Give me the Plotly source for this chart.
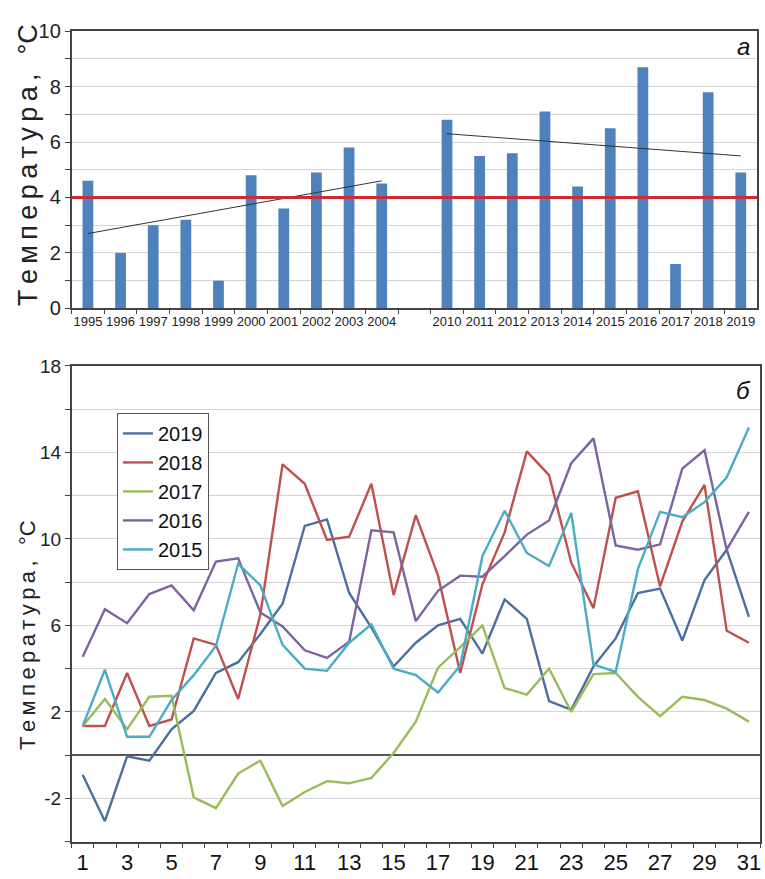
import plotly.graph_objects as go

# ---- panel "а": annual mean temperature ----
years_a = ['1995', '1996', '1997', '1998', '1999', '2000', '2001', '2002', '2003', '2004',
           ' ',
           '2010', '2011', '2012', '2013', '2014', '2015', '2016', '2017', '2018', '2019']
temps_a = [4.6, 2.0, 3.0, 3.2, 1.0, 4.8, 3.6, 4.9, 5.8, 4.5,
           None,
           6.8, 5.5, 5.6, 7.1, 4.4, 6.5, 8.7, 1.6, 7.8, 4.9]
norm_temp = 4.0
trend1_years = ['1995', '2004']
trend1_vals = [2.7, 4.6]
trend2_years = ['2010', '2019']
trend2_vals = [6.3, 5.5]

# ---- panel "б": daily temperature by year ----
days = list(range(1, 32))
t2019 = [-0.9, -3.05, -0.05, -0.25, 1.2, 2.05, 3.8, 4.3, 5.6, 7.0, 10.6, 10.9, 7.5, 5.9, 4.1, 5.2,
         6.0, 6.3, 4.7, 7.2, 6.3, 2.5, 2.1, 4.1, 5.4, 7.5, 7.7, 5.3, 8.1, 9.5, 6.4]
t2018 = [1.35, 1.35, 3.8, 1.35, 1.65, 5.4, 5.1, 2.6, 6.5, 13.45, 12.55, 9.95, 10.1, 12.55, 7.4, 11.1,
         8.3, 3.8, 7.9, 10.3, 14.05, 12.95, 8.9, 6.8, 11.9, 12.2, 7.8, 10.8, 12.5, 5.75, 5.2]
t2017 = [1.35, 2.6, 1.2, 2.7, 2.75, -1.95, -2.45, -0.85, -0.25, -2.35, -1.7, -1.2, -1.3, -1.05, 0.1, 1.55,
         4.05, 5.0, 6.0, 3.1, 2.8, 4.0, 2.0, 3.75, 3.8, 2.7, 1.8, 2.7, 2.55, 2.15, 1.55]
t2016 = [4.55, 6.75, 6.1, 7.45, 7.85, 6.7, 8.95, 9.1, 6.6, 5.95, 4.85, 4.5, 5.25, 10.4, 10.3, 6.2,
         7.6, 8.3, 8.25, 9.2, 10.2, 10.85, 13.5, 14.65, 9.7, 9.5, 9.75, 13.25, 14.1, 9.5, 11.25]
t2015 = [1.35, 3.95, 0.85, 0.85, 2.55, 3.7, 5.05, 8.85, 7.85, 5.1, 4.0, 3.9, 5.2, 6.05, 4.0, 3.7,
         2.9, 4.15, 9.2, 11.3, 9.35, 8.75, 11.2, 4.2, 3.85, 8.6, 11.25, 11.0, 11.7, 12.85, 15.15]
series_names = ['2019', '2018', '2017', '2016', '2015']
series_vals = [t2019, t2018, t2017, t2016, t2015]
series_colors = ['#4a6fa0', '#bf504d', '#9bbb59', '#7d63a0', '#4bacc6']

odd_days = days[::2]
y2_ticks = [-2, 2, 6, 10, 14, 18]
y2_ticktext = ['-2', '2', '6', '10', '14', '18']

FONT = 'Liberation Sans, Arial, sans-serif'
AXIS_LINE = '#444444'
GRID = '#d4d4d4'

fig = go.Figure()

# bars
fig.add_trace(go.Bar(x=years_a, y=temps_a, marker_color='#4f81bd', marker_line_width=0,
                     showlegend=False, xaxis='x', yaxis='y'))
# linear trends
for tx, ty in ((trend1_years, trend1_vals), (trend2_years, trend2_vals)):
    fig.add_trace(go.Scatter(x=tx, y=ty, mode='lines', line=dict(color='#333333', width=1),
                             showlegend=False, xaxis='x', yaxis='y'))

# daily lines
for name, vals, col in zip(series_names, series_vals, series_colors):
    fig.add_trace(go.Scatter(x=days, y=vals, mode='lines', name=name,
                             line=dict(color=col, width=2.4), xaxis='x2', yaxis='y2'))

# long-term norm line on panel "а"
fig.add_shape(type='line', xref='x domain', yref='y', x0=0, x1=1, y0=norm_temp, y1=norm_temp,
              line=dict(color='#cc2b36', width=3), layer='above')

ytitle = '\u2009'.join('Температура,') + '\u2002\u2009°C'

fig.update_layout(
    width=765, height=879,
    margin=dict(l=0, r=0, t=0, b=0),
    paper_bgcolor='white', plot_bgcolor='white',
    font=dict(family=FONT, color='#111111'),
    bargap=0.67,
    xaxis=dict(
        domain=[0.0937, 0.991], anchor='y', type='category',
        categoryorder='array', categoryarray=years_a,
        tickson='boundaries', ticks='outside', ticklen=4, tickcolor=AXIS_LINE,
        showline=True, linecolor=AXIS_LINE, linewidth=1.5, mirror=True,
        showgrid=False, tickfont=dict(size=13, color='#222222'), tickangle=0,
    ),
    yaxis=dict(
        domain=[0.653, 0.9765], anchor='x', range=[0, 10],
        tickvals=[0, 2, 4, 6, 8, 10], ticks='outside', ticklen=5, tickcolor=AXIS_LINE,
        showline=True, linecolor=AXIS_LINE, linewidth=1.5, mirror=True,
        showgrid=True, gridcolor=GRID, gridwidth=1, zeroline=False,
        minor=dict(dtick=1, tick0=0, showgrid=True, gridcolor=GRID, ticks='outside',
                   ticklen=5, tickcolor=AXIS_LINE),
        tickfont=dict(size=20, color='#222222'),
    ),
    xaxis2=dict(
        domain=[0.0937, 0.9948], anchor='y2', range=[0.5, 31.5],
        tickvals=odd_days, ticks='', showgrid=False, zeroline=False,
        showline=True, linecolor=AXIS_LINE, linewidth=1.5, mirror=True,
        minor=dict(tick0=0.5, dtick=1, ticks='outside', ticklen=5, tickcolor=AXIS_LINE,
                   showgrid=False),
        tickfont=dict(size=22, color='#111111'),
    ),
    yaxis2=dict(
        domain=[0.0307, 0.5859], anchor='x2', range=[-4, 18],
        tickvals=y2_ticks, ticktext=y2_ticktext, ticks='outside', ticklen=5, tickcolor=AXIS_LINE,
        showline=True, linecolor=AXIS_LINE, linewidth=1.5, mirror=True,
        showgrid=True, gridcolor=GRID, gridwidth=1,
        zeroline=True, zerolinecolor='#555555', zerolinewidth=1.5,
        minor=dict(dtick=2, tick0=0, showgrid=True, gridcolor=GRID, ticks='outside',
                   ticklen=5, tickcolor=AXIS_LINE),
        tickfont=dict(size=19, color='#222222'),
    ),
    legend=dict(
        x=0.153, y=0.531, xanchor='left', yanchor='top',
        bgcolor='white', bordercolor='#555555', borderwidth=1,
        font=dict(size=20, color='#111111', family=FONT),
        itemwidth=30, tracegroupgap=0,
    ),
    annotations=[
        dict(text=ytitle, textangle=-90, xref='paper', yref='paper', x=28 / 765, y=1 - 158 / 879,
             showarrow=False, font=dict(size=27, color='#222222'), xanchor='center', yanchor='middle'),
        dict(text=ytitle, textangle=-90, xref='paper', yref='paper', x=28 / 765, y=1 - 640 / 879,
             showarrow=False, font=dict(size=22, color='#222222'), xanchor='center', yanchor='middle'),
        dict(text='<i>а</i>', xref='paper', yref='paper', x=744 / 765, y=1 - 36 / 879,
             showarrow=False, font=dict(size=24, color='#111111'), xanchor='center', yanchor='middle'),
        dict(text='<i>б</i>', xref='paper', yref='paper', x=744 / 765, y=1 - 389 / 879,
             showarrow=False, font=dict(size=24, color='#111111'), xanchor='center', yanchor='middle'),
    ],
)

fig.write_html('out.html')
